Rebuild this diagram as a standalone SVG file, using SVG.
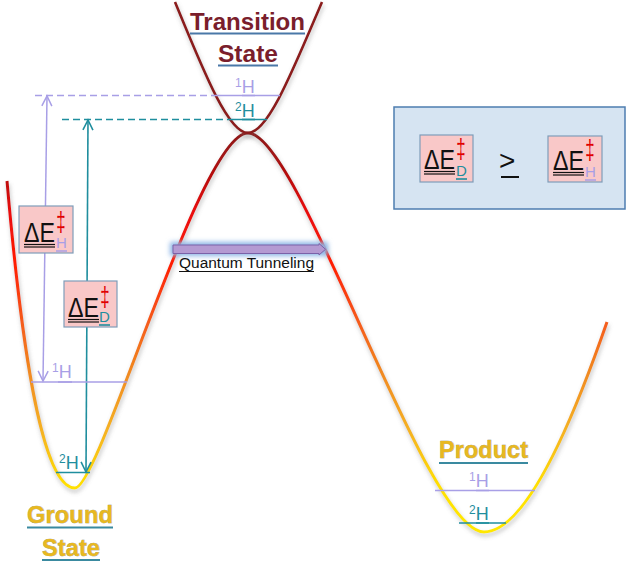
<svg xmlns="http://www.w3.org/2000/svg" width="627" height="562" viewBox="0 0 627 562">
<style>
.lav{stroke:#A89FE6;fill:none;stroke-width:1.5}
.teal{stroke:#1F8E9E;fill:none;stroke-width:1.6}
.lbl{font-family:"Liberation Sans",Arial,sans-serif;font-size:18px}
.sup{font-size:12px}
.lavT{fill:#A89FE6}
.tealT{fill:#1F8E9E}
.title{font-family:"Liberation Sans",Arial,sans-serif;font-size:24px;font-weight:bold}
.ts{fill:#7A1E2C}
.gold{fill:#E8B820;stroke:#8C8A6A;stroke-width:0.5;paint-order:stroke}
.ul{stroke:#4A78A8;stroke-width:2}
.ulG{stroke:#3A8AA0;stroke-width:2}
.box{fill:#F9C8C8;stroke:#7F9DB9;stroke-width:1.2}
.de{font-family:"Liberation Sans",Arial,sans-serif;font-size:27px;fill:#111}
.dd{font-family:"Liberation Sans",Arial,sans-serif;font-size:28px;fill:#E00000;text-anchor:middle}
.sub{font-family:"Liberation Sans",Arial,sans-serif;font-size:15px}
.blk{stroke:#111;stroke-width:1.2}
.qt{font-family:"Liberation Sans",Arial,sans-serif;font-size:14px;fill:#111}
</style>
<defs>
<linearGradient id="grad" gradientUnits="userSpaceOnUse" x1="0" y1="130" x2="0" y2="535">
<stop offset="0" stop-color="#8B1A1A"/>
<stop offset="0.1" stop-color="#B01010"/>
<stop offset="0.2" stop-color="#E80E0E"/>
<stop offset="0.32" stop-color="#FF1A00"/>
<stop offset="0.47" stop-color="#F55A1A"/>
<stop offset="0.6" stop-color="#F08A20"/>
<stop offset="0.75" stop-color="#F5B420"/>
<stop offset="0.88" stop-color="#FFE000"/>
<stop offset="1" stop-color="#FFE800"/>
</linearGradient>
<filter id="shadow" x="-10%" y="-10%" width="120%" height="130%">
<feDropShadow dx="1" dy="3" stdDeviation="2" flood-color="#777" flood-opacity="0.45"/>
</filter>
<filter id="glow" x="-20%" y="-100%" width="140%" height="300%">
<feGaussianBlur stdDeviation="2.5"/>
</filter>
<marker id="ahL" markerUnits="userSpaceOnUse" markerWidth="14" markerHeight="14" refX="10" refY="5" orient="auto-start-reverse" overflow="visible">
<path d="M0,0 L10,5 L0,10" fill="none" stroke="#A89FE6" stroke-width="1.5"/>
</marker>
<marker id="ahT" markerUnits="userSpaceOnUse" markerWidth="14" markerHeight="14" refX="10" refY="5" orient="auto-start-reverse" overflow="visible">
<path d="M0,0 L10,5 L0,10" fill="none" stroke="#1F8E9E" stroke-width="1.6"/>
</marker>
<g id="dEcore">
<text class="de" x="5" y="36" textLength="31" lengthAdjust="spacingAndGlyphs">ΔE</text>
<line class="blk" x1="5" y1="38.5" x2="36" y2="38.5"/>
<line class="blk" x1="5" y1="41" x2="36" y2="41"/>
<text class="dd" transform="translate(42,25) scale(0.6,1)">‡</text>
</g>
</defs>
<rect width="627" height="562" fill="#fff"/>

<g id="energy-curve" filter="url(#shadow)">
<path d="M7,181 C20,330 40,488 75,488 C100,488 200,133 248,133 C300,133 425,532 484,532 C530,532 580,400 607,322" fill="none" stroke="url(#grad)" stroke-width="3"/>
</g>
<g id="transition-curve" filter="url(#shadow)">
<path d="M175,2 C203,70 228,133 248,133 C268,133 293,70 322,2" fill="none" stroke="#8B1C1C" stroke-width="2.6"/>
</g>

<g id="connectors">
<path class="lav" d="M35,95.5 H218" stroke-dasharray="7,4"/>
<path class="lav" d="M218,95.5 H280"/>
<path class="teal" d="M62,119.5 H232" stroke-dasharray="7,4"/>
<path class="teal" d="M232,119.5 H267"/>
<path class="lav" d="M47,96 L43,381" marker-start="url(#ahL)" marker-end="url(#ahL)"/>
<path class="teal" d="M88,120 L86,472" marker-start="url(#ahT)" marker-end="url(#ahT)"/>
<path class="lav" d="M31,382 H127"/>
<path class="teal" d="M56,472.5 H90" stroke-width="2"/>
<path class="lav" d="M435,490.5 H535"/>
<path class="teal" d="M459,523 H506" stroke-width="2"/>
<g id="tunneling-arrow">
<rect x="170" y="242" width="158" height="14" fill="#8DB6E6" filter="url(#glow)"/>
<path d="M173,245 H319 V243.5 L325.5,249.3 L319,255 V253.5 H173 Z" fill="#B49AD2" stroke="#7A62A8" stroke-width="1"/>
</g>
</g>

<g id="transition-state-label">
<text class="title ts" x="190" y="30" textLength="115" lengthAdjust="spacingAndGlyphs">Transition</text>
<line class="ul" x1="190" y1="33.5" x2="305" y2="33.5"/>
<text class="title ts" x="218" y="62" textLength="60" lengthAdjust="spacingAndGlyphs">State</text>
<line class="ul" x1="218" y1="65.5" x2="278" y2="65.5"/>
</g>
<g id="ts-1H">
<text class="lbl lavT" x="235" y="93"><tspan class="sup" dy="-6">1</tspan><tspan dy="6">H</tspan></text>
<line class="lav" x1="242" y1="95.5" x2="255" y2="95.5" stroke-width="2.5"/>
</g>
<g id="ts-2H">
<text class="lbl tealT" x="235" y="117"><tspan class="sup" dy="-6">2</tspan><tspan dy="6">H</tspan></text>
<line class="teal" x1="242" y1="119.5" x2="255" y2="119.5" stroke-width="2.5"/>
</g>

<g id="ground-state-label">
<text class="title gold" x="27" y="523" textLength="86" lengthAdjust="spacingAndGlyphs">Ground</text>
<line class="ulG" x1="27" y1="527.5" x2="113" y2="527.5"/>
<text class="title gold" x="42" y="556" textLength="58" lengthAdjust="spacingAndGlyphs">State</text>
<line class="ulG" x1="42" y1="560" x2="100" y2="560"/>
</g>
<g id="ground-1H">
<text class="lbl lavT" x="52" y="378"><tspan class="sup" dy="-6">1</tspan><tspan dy="6">H</tspan></text>
<line class="lav" x1="58" y1="382" x2="72" y2="382" stroke-width="2.5"/>
</g>
<g id="ground-2H">
<text class="lbl tealT" x="59" y="469"><tspan class="sup" dy="-6">2</tspan><tspan dy="6">H</tspan></text>
</g>

<g id="product-label">
<text class="title gold" x="439" y="458" textLength="89" lengthAdjust="spacingAndGlyphs">Product</text>
<line class="ulG" x1="439" y1="463" x2="528" y2="463"/>
</g>
<g id="product-1H">
<text class="lbl lavT" x="469" y="487"><tspan class="sup" dy="-6">1</tspan><tspan dy="6">H</tspan></text>
<line class="lav" x1="476" y1="490.5" x2="489" y2="490.5" stroke-width="2.5"/>
</g>
<g id="product-2H">
<text class="lbl tealT" x="469" y="520"><tspan class="sup" dy="-6">2</tspan><tspan dy="6">H</tspan></text>
<line class="teal" x1="476" y1="523" x2="489" y2="523" stroke-width="2.5"/>
</g>

<g id="tunneling-label">
<text class="qt" x="179" y="268" textLength="135" lengthAdjust="spacingAndGlyphs">Quantum Tunneling</text>
<line class="blk" x1="179" y1="271.5" x2="314" y2="271.5"/>
</g>

<g id="dE-H" transform="translate(19,206)">
<rect class="box" width="54" height="47"/>
<use href="#dEcore"/>
<text class="sub lavT" x="37" y="42">H</text>
<line class="lav" x1="37" y1="45" x2="48" y2="45" stroke-width="1.6"/>
</g>
<g id="dE-D" transform="translate(64,281)">
<rect class="box" width="53" height="46"/>
<use href="#dEcore" x="-1"/>
<text class="sub tealT" x="35" y="41">D</text>
<line class="teal" x1="35" y1="44" x2="46" y2="44" stroke-width="1.6"/>
</g>

<g id="legend">
<rect x="394" y="107" width="231" height="102" fill="#D6E4F2" stroke="#4E7DB0" stroke-width="1.5"/>
<g id="legend-D" transform="translate(420,135)">
<rect class="box" width="53" height="47"/>
<use href="#dEcore" x="-1" y="-2"/>
<text class="sub tealT" x="36" y="41">D</text>
<line class="teal" x1="36" y1="44" x2="47" y2="44" stroke-width="1.6"/>
</g>
<text x="499" y="170" font-family="Liberation Sans, Arial, sans-serif" font-size="28" fill="#111">&gt;</text>
<line x1="501" y1="177" x2="519" y2="177" stroke="#111" stroke-width="2"/>
<g id="legend-H" transform="translate(548,136)">
<rect class="box" width="54" height="46"/>
<use href="#dEcore" y="-2"/>
<text class="sub lavT" x="37" y="41">H</text>
<line class="lav" x1="37" y1="44" x2="48" y2="44" stroke-width="1.6"/>
</g>
</g>
</svg>
